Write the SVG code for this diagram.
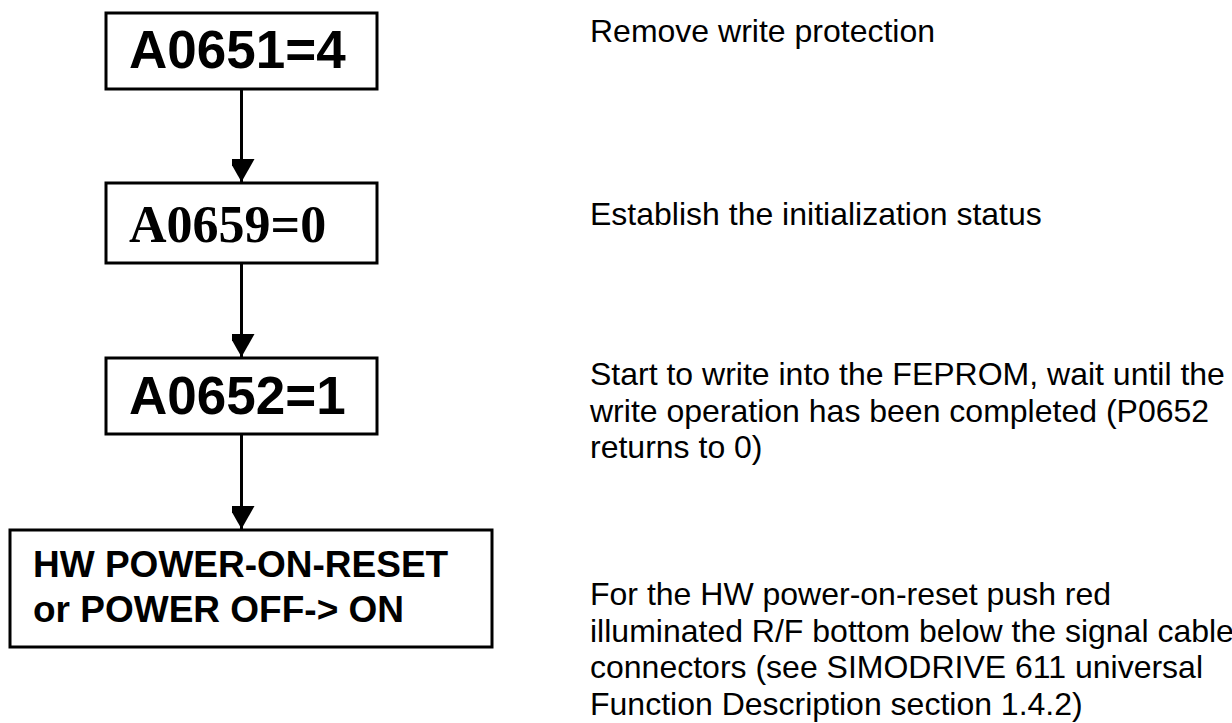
<svg xmlns="http://www.w3.org/2000/svg" width="1232" height="723" viewBox="0 0 1232 723">
  <style>
    .box { fill: #ffffff; stroke: #000000; stroke-width: 3; }
    .lbl { font-family: "Liberation Sans", Arial, sans-serif; font-weight: bold; font-size: 53px; fill: #000; }
    .lbl-serif { font-family: "Liberation Serif", "Times New Roman", serif; font-weight: bold; font-size: 52px; fill: #000; }
    .lbl-small { font-family: "Liberation Sans", Arial, sans-serif; font-weight: bold; font-size: 37px; fill: #000; }
    .note { font-family: "Liberation Sans", Arial, sans-serif; font-size: 32px; fill: #000; }
    .link { fill: none; stroke: #000; stroke-width: 3; }
  </style>
  <defs>
    <marker id="arrow" markerUnits="userSpaceOnUse" markerWidth="26" markerHeight="23" refX="23" refY="13" orient="auto">
      <path d="M0,0 L23,13 L0,26 Z" fill="#000"/>
    </marker>
  </defs>

  <rect width="1232" height="723" fill="#ffffff"/>

  <!-- connectors -->
  <g id="connectors">
    <line class="link" x1="241.5" y1="89" x2="241.5" y2="182" marker-end="url(#arrow)"/>
    <line class="link" x1="241.5" y1="263" x2="241.5" y2="357" marker-end="url(#arrow)"/>
    <line class="link" x1="241.5" y1="434" x2="241.5" y2="529" marker-end="url(#arrow)"/>
  </g>

  <g id="step-a0651">
    <rect class="box" x="106" y="13" width="271" height="76"/>
    <text class="lbl" x="129" y="68">A0651=4</text>
  </g>

  <g id="step-a0659">
    <rect class="box" x="106" y="183" width="271" height="80"/>
    <text class="lbl-serif" x="129" y="242">A0659=0</text>
  </g>

  <g id="step-a0652">
    <rect class="box" x="106" y="358" width="271" height="76"/>
    <text class="lbl" x="129" y="414">A0652=1</text>
  </g>

  <g id="step-reset">
    <rect class="box" x="10" y="530" width="482" height="117"/>
    <text class="lbl-small" x="33" y="577">HW POWER-ON-RESET</text>
    <text class="lbl-small" x="33" y="622">or POWER OFF-&gt; ON</text>
  </g>

  <!-- explanatory notes -->
  <g id="notes">
    <text class="note" x="590" y="41.7">Remove write protection</text>
    <text class="note" x="590" y="225">Establish the initialization status</text>
    <text class="note" x="590" y="385">Start to write into the FEPROM, wait until the</text>
    <text class="note" x="590" y="421.7">write operation has been completed (P0652</text>
    <text class="note" x="590" y="458.4">returns to 0)</text>
    <text class="note" x="590" y="605">For the HW power-on-reset push red</text>
    <text class="note" x="590" y="641.7">illuminated R/F bottom below the signal cable</text>
    <text class="note" x="590" y="678.3">connectors (see SIMODRIVE 611 universal</text>
    <text class="note" x="590" y="715">Function Description section 1.4.2)</text>
  </g>
</svg>
